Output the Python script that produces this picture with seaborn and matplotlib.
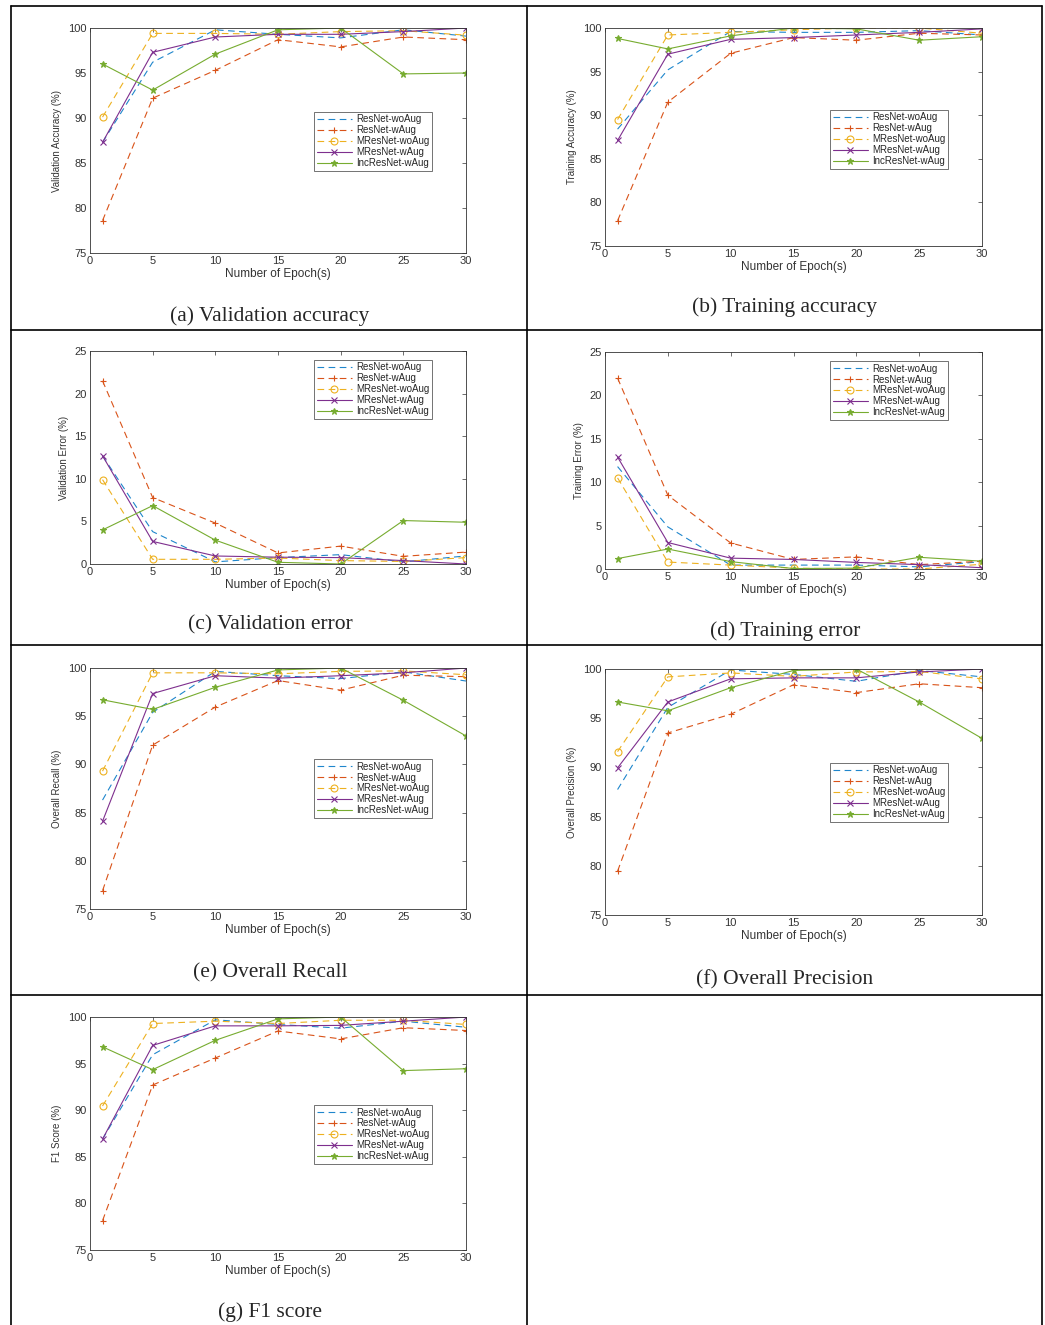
import matplotlib
matplotlib.use("Agg")
import matplotlib.pyplot as plt
import seaborn as sns
from matplotlib.lines import Line2D

sns.set_style("white")
plt.rcParams['font.family'] = ['Liberation Sans', 'DejaVu Sans']

W, H = 1045, 1325

epochs = [1, 5, 10, 15, 20, 25, 30]
models = ['ResNet-woAug', 'ResNet-wAug', 'MResNet-woAug', 'MResNet-wAug', 'IncResNet-wAug']

# (a) validation accuracy
val_acc = {
    'ResNet-woAug': [87.3, 96.2, 99.8, 99.3, 98.9, 99.8, 99.1],
    'ResNet-wAug': [78.6, 92.2, 95.3, 98.7, 97.9, 99.0, 98.7],
    'MResNet-woAug': [90.1, 99.4, 99.4, 99.3, 99.6, 99.7, 99.2],
    'MResNet-wAug': [87.3, 97.3, 99.0, 99.3, 99.3, 99.6, 100.0],
    'IncResNet-wAug': [96.0, 93.1, 97.1, 99.8, 100.0, 94.9, 95.0],
}
# (b) training accuracy
train_acc = {
    'ResNet-woAug': [88.4, 95.2, 99.6, 99.5, 99.5, 99.7, 99.2],
    'ResNet-wAug': [77.9, 91.5, 97.1, 98.9, 98.6, 99.4, 99.2],
    'MResNet-woAug': [89.5, 99.2, 99.5, 99.8, 100.0, 100.0, 99.4],
    'MResNet-wAug': [87.1, 97.0, 98.7, 98.9, 99.2, 99.5, 99.9],
    'IncResNet-wAug': [98.8, 97.6, 99.1, 100.0, 99.9, 98.6, 99.0],
}
# (c) validation error
val_err = {
    'ResNet-woAug': [12.7, 3.8, 0.25, 0.75, 1.1, 0.25, 0.95],
    'ResNet-wAug': [21.5, 7.8, 4.8, 1.3, 2.1, 0.9, 1.4],
    'MResNet-woAug': [9.9, 0.55, 0.55, 0.7, 0.4, 0.3, 0.75],
    'MResNet-wAug': [12.7, 2.65, 0.94, 0.8, 0.75, 0.4, 0.0],
    'IncResNet-wAug': [4.0, 6.85, 2.8, 0.2, 0.0, 5.1, 4.9],
}
# (d) training error
train_err = {
    'ResNet-woAug': [11.8, 4.85, 0.45, 0.45, 0.45, 0.25, 0.85],
    'ResNet-wAug': [22.0, 8.5, 3.0, 1.1, 1.4, 0.5, 0.9],
    'MResNet-woAug': [10.5, 0.8, 0.45, 0.1, 0.0, 0.0, 0.55],
    'MResNet-wAug': [12.9, 3.05, 1.25, 1.1, 0.76, 0.5, 0.15],
    'IncResNet-wAug': [1.2, 2.3, 0.85, 0.05, 0.1, 1.35, 0.9],
}
# (e) overall recall
recall = {
    'ResNet-woAug': [86.3, 95.4, 99.65, 99.2, 98.9, 99.6, 98.65],
    'ResNet-wAug': [76.9, 92.0, 95.95, 98.7, 97.7, 99.25, 99.1],
    'MResNet-woAug': [89.3, 99.5, 99.5, 99.4, 99.65, 99.7, 99.3],
    'MResNet-wAug': [84.1, 97.35, 99.2, 98.95, 99.2, 99.5, 100.0],
    'IncResNet-wAug': [96.7, 95.7, 98.0, 99.8, 100.0, 96.65, 92.95],
}
# (f) overall precision
precision = {
    'ResNet-woAug': [87.75, 96.1, 99.9, 99.45, 98.75, 99.85, 99.2],
    'ResNet-wAug': [79.45, 93.5, 95.4, 98.4, 97.6, 98.5, 98.1],
    'MResNet-woAug': [91.6, 99.2, 99.6, 99.25, 99.7, 99.75, 99.0],
    'MResNet-wAug': [89.95, 96.65, 99.0, 99.1, 99.1, 99.7, 100.0],
    'IncResNet-wAug': [96.65, 95.75, 98.1, 99.85, 100.0, 96.65, 92.95],
}
# (g) F1 score
f1 = {
    'ResNet-woAug': [86.9, 95.95, 99.7, 99.2, 98.8, 99.55, 98.9],
    'ResNet-wAug': [78.15, 92.7, 95.6, 98.5, 97.65, 98.85, 98.55],
    'MResNet-woAug': [90.45, 99.3, 99.55, 99.3, 99.65, 99.65, 99.2],
    'MResNet-wAug': [86.9, 96.95, 99.05, 99.05, 99.1, 99.55, 100.0],
    'IncResNet-wAug': [96.8, 94.35, 97.5, 99.8, 100.0, 94.25, 94.45],
}

colors = ['#1F86CC', '#D95319', '#EDB120', '#7E2F8E', '#77AC30']
styles = [(0, (6, 4)), (0, (6, 4)), (0, (6, 4)), '-', '-']
markers = [None, '+', 'o', 'x', '*']

# panel: data, ylabel, caption, axes box in pixels (l, t, r, b), legend top (axes frac), caption pos
panels = [
    (val_acc, 'Validation Accuracy (%)', '(a) Validation accuracy', (90, 28, 466, 253), 0.627, (270, 316), 'acc'),
    (train_acc, 'Training Accuracy (%)', '(b) Training accuracy', (605, 28, 982, 246), 0.624, (785, 307), 'acc'),
    (val_err, 'Validation Error (%)', '(c) Validation error', (90, 351, 466, 564), 0.958, (270, 625), 'err'),
    (train_err, 'Training Error (%)', '(d) Training error', (605, 352, 982, 569), 0.958, (785, 631), 'err'),
    (recall, 'Overall Recall (%)', '(e) Overall Recall', (90, 668, 466, 909), 0.622, (270, 973), 'acc'),
    (precision, 'Overall Precision (%)', '(f) Overall Precision', (605, 669, 982, 915), 0.618, (785, 980), 'acc'),
    (f1, 'F1 Score (%)', '(g) F1 score', (90, 1017, 466, 1250), 0.622, (270, 1312), 'acc'),
]

fig = plt.figure(figsize=(W / 100, H / 100), dpi=100)

for data, ylab, cap, (l, t, r, b), legtop, (cx, cy), kind in panels:
    ax = fig.add_axes([l / W, 1 - b / H, (r - l) / W, (b - t) / H])
    for m, c, ls, mk in zip(models, colors, styles, markers):
        kw = dict(color=c, linestyle=ls, linewidth=0.8, label=m)
        if mk is not None:
            kw.update(marker=mk, markersize=5 if mk != 'x' else 4,
                      markeredgecolor=c, markeredgewidth=0.8,
                      markerfacecolor='none' if mk == 'o' else c)
        sns.lineplot(x=epochs, y=data[m], ax=ax, **kw)
    ax.set_xlim(0, 30)
    ax.set_xticks(range(0, 31, 5))
    if kind == 'acc':
        ax.set_ylim(75, 100)
        ax.set_yticks(range(75, 101, 5))
    else:
        ax.set_ylim(0, 25)
        ax.set_yticks(range(0, 26, 5))
    ax.set_xlabel('Number of Epoch(s)', fontsize=8.5, color='#333333', labelpad=1)
    ax.set_ylabel(ylab, fontsize=7, color='#333333', labelpad=4)
    ax.tick_params(axis='both', which='both', direction='in', length=3, width=0.5,
                   labelsize=8, colors='#333333', top=True, right=True, pad=2.5)
    for sp in ax.spines.values():
        sp.set_color('#333333')
        sp.set_linewidth(0.6)
    ax.legend(loc='upper right', bbox_to_anchor=(0.91, legtop), fontsize=7,
              frameon=True, fancybox=False, edgecolor='#333333', handlelength=3.6,
              borderpad=0.25, labelspacing=0.1, handletextpad=0.5, borderaxespad=0)
    ax.get_legend().get_frame().set_linewidth(0.6)
    fig.text(cx / W, 1 - cy / H, cap, ha='center', va='center',
             fontsize=15.5, family='Liberation Serif')

# table borders
def hline(y, x0=11, x1=1042):
    fig.add_artist(Line2D([x0 / W, x1 / W], [1 - y / H, 1 - y / H], color='black', lw=1.2))

def vline(x, y0=6, y1=1325):
    fig.add_artist(Line2D([x / W, x / W], [1 - y0 / H, 1 - y1 / H], color='black', lw=1.2))

for y in [6, 330, 645, 995]:
    hline(y)
for x in [11, 527, 1042]:
    vline(x)

fig.savefig('out.png', dpi=100)
